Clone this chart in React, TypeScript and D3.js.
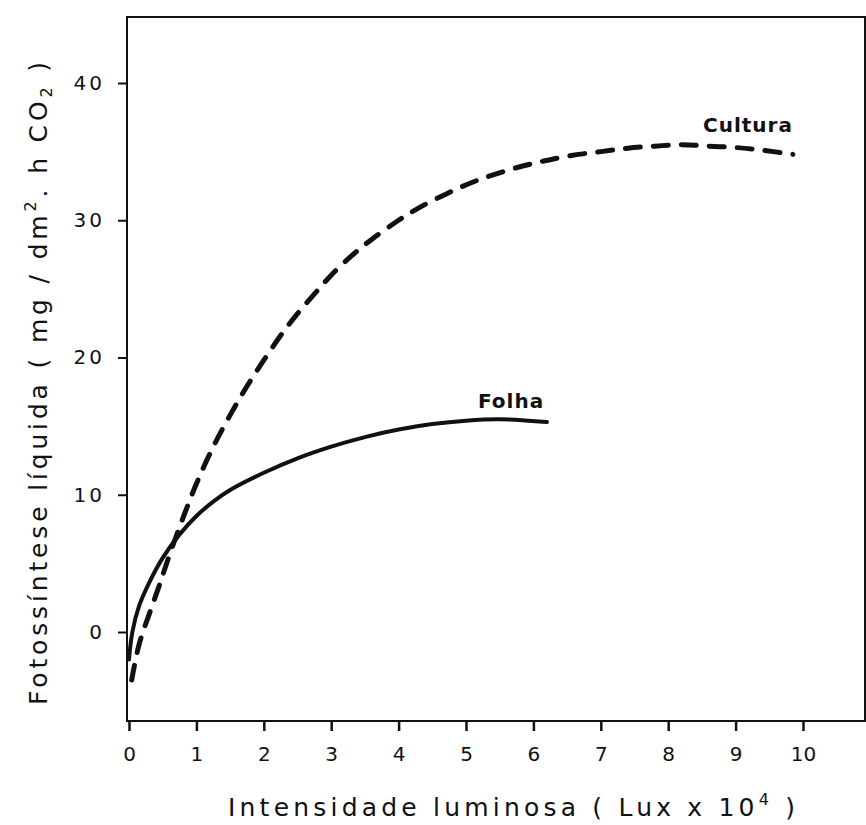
import React, { useEffect, useRef } from "react";
import * as d3 from "d3";

// tick values
const xTicks = [0, 1, 2, 3, 4, 5, 6, 7, 8, 9, 10];
const yTicks = [0, 10, 20, 30, 40];

// Folha (leaf) - solid curve
const folhaX = [0, 0.05, 0.15, 0.3, 0.5, 0.75, 1.0, 1.25, 1.5, 2.0, 2.5, 3.0, 3.5, 4.0, 4.5, 5.0, 5.5, 6.2];
const folhaY = [-2.0, 0, 1.9, 3.6, 5.4, 7.1, 8.45, 9.5, 10.35, 11.6, 12.65, 13.5, 14.2, 14.75, 15.15, 15.4, 15.5, 15.3];

// Cultura (crop) - dashed curve
const culturaX = [0.04, 0.15, 0.3, 0.45, 0.6, 0.8, 1.0, 1.25, 1.5, 1.75, 2.0, 2.25, 2.5, 2.8, 3.0, 3.3, 3.6, 4.0, 4.3, 4.7, 5.06, 5.4, 5.8, 6.14, 6.54, 7.0, 7.4, 7.8, 8.2, 8.6, 9.0, 9.4, 9.85];
const culturaY = [-3.5, -0.9, 1.3, 3.4, 5.6, 8.3, 10.8, 13.5, 15.8, 17.9, 19.8, 21.6, 23.2, 24.9, 26.0, 27.4, 28.6, 30.0, 30.9, 31.9, 32.7, 33.3, 33.9, 34.3, 34.7, 35.0, 35.25, 35.4, 35.5, 35.4, 35.3, 35.1, 34.8];

const ink = "#111";
const font = "'DejaVu Sans', sans-serif";

const App = () => {
  const ref = useRef<SVGSVGElement>(null);

  useEffect(() => {
    const svg = d3.select(ref.current);
    svg.selectAll("*").remove();

    // frame bounds
    const left = 127, right = 865, top = 17, bottom = 721;

    const xScale = d3.scaleLinear().domain([0, 10]).range([129, 803]);
    const yScale = d3.scaleLinear().domain([0, 40]).range([632, 83]);

    // frame
    svg
      .append("rect")
      .attr("x", left)
      .attr("y", top)
      .attr("width", right - left)
      .attr("height", bottom - top)
      .attr("fill", "none")
      .attr("stroke", ink)
      .attr("stroke-width", 2);

    // y axis
    const yAxis = svg
      .append("g")
      .attr("transform", `translate(${left},0)`)
      .call(d3.axisLeft(yScale).tickValues(yTicks).tickSize(9).tickPadding(13));
    yAxis.select(".domain").remove();
    yAxis.selectAll("line").attr("stroke", ink).attr("stroke-width", 2);
    yAxis
      .selectAll("text")
      .attr("font-size", 20)
      .attr("font-family", font)
      .attr("letter-spacing", 3)
      .attr("fill", ink);

    // x axis
    const xAxis = svg
      .append("g")
      .attr("transform", `translate(0,${bottom})`)
      .call(d3.axisBottom(xScale).tickValues(xTicks).tickSize(10).tickPadding(16));
    xAxis.select(".domain").remove();
    xAxis.selectAll("line").attr("stroke", ink).attr("stroke-width", 2.5);
    xAxis
      .selectAll("text")
      .attr("font-size", 20)
      .attr("font-family", font)
      .attr("fill", ink);

    const line = d3
      .line<[number, number]>()
      .x((d) => xScale(d[0]))
      .y((d) => yScale(d[1]))
      .curve(d3.curveCatmullRom.alpha(0.5));

    const folha = folhaX.map((x, i) => [x, folhaY[i]] as [number, number]);
    const cultura = culturaX.map((x, i) => [x, culturaY[i]] as [number, number]);

    svg
      .append("path")
      .datum(folha)
      .attr("fill", "none")
      .attr("stroke", ink)
      .attr("stroke-width", 4)
      .attr("stroke-linecap", "round")
      .attr("d", line);

    svg
      .append("path")
      .datum(cultura)
      .attr("fill", "none")
      .attr("stroke", ink)
      .attr("stroke-width", 5)
      .attr("stroke-linecap", "round")
      .attr("stroke-dasharray", "15,13")
      .attr("d", line);

    // curve labels
    svg
      .append("text")
      .attr("x", 703)
      .attr("y", 132)
      .attr("font-size", 20)
      .attr("font-weight", "bold")
      .attr("font-family", font)
      .attr("letter-spacing", 1)
      .attr("fill", ink)
      .text("Cultura");

    svg
      .append("text")
      .attr("x", 478)
      .attr("y", 408)
      .attr("font-size", 20)
      .attr("font-weight", "bold")
      .attr("font-family", font)
      .attr("letter-spacing", 1)
      .attr("fill", ink)
      .text("Folha");

    // x axis title
    const xt = svg
      .append("text")
      .attr("x", 228)
      .attr("y", 816)
      .attr("font-size", 25)
      .attr("font-family", font)
      .attr("fill", ink)
      .attr("textLength", 567)
      .attr("lengthAdjust", "spacing");
    xt.append("tspan").text("Intensidade luminosa ( Lux x 10");
    xt.append("tspan").attr("font-size", 16).attr("dy", -11).text("4");
    xt.append("tspan").attr("dy", 11).text(" )");

    // y axis title
    const yt = svg
      .append("text")
      .attr("transform", "translate(47,705) rotate(-90)")
      .attr("font-size", 25)
      .attr("font-family", font)
      .attr("fill", ink)
      .attr("textLength", 643)
      .attr("lengthAdjust", "spacing");
    yt.append("tspan").text("Fotossíntese líquida ( mg / dm");
    yt.append("tspan").attr("font-size", 16).attr("dy", -11).text("2");
    yt.append("tspan").attr("dy", 11).text(". h CO");
    yt.append("tspan").attr("font-size", 16).attr("dy", 5).text("2");
    yt.append("tspan").attr("dy", -5).text(" )");
  }, []);

  return (
    <svg
      ref={ref}
      width={866}
      height={825}
      style={{ position: "absolute", left: 0, top: 0, background: "#fff" }}
    />
  );
};

export default App;
